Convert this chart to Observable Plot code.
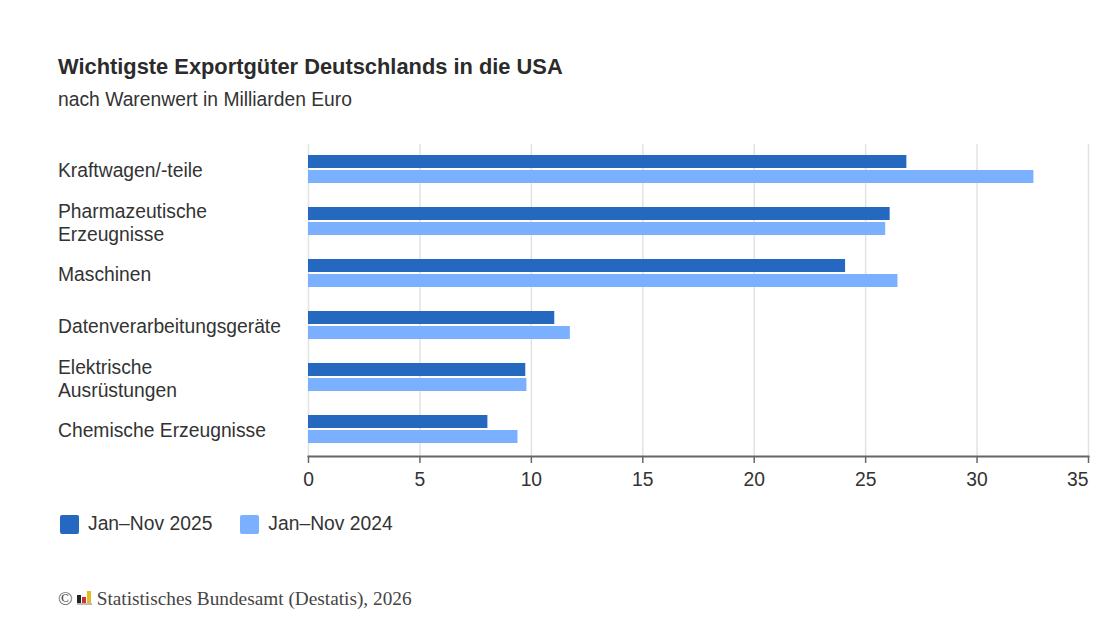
<!DOCTYPE html>
<html lang="de"><head><meta charset="utf-8">
<script src="https://cdn.jsdelivr.net/npm/d3@7"></script>
<script src="https://cdn.jsdelivr.net/npm/@observablehq/plot@0.6"></script>
<style>
html,body{margin:0;padding:0;background:#fff;width:1116px;height:628px;overflow:hidden;font-family:"Liberation Sans",Arial,sans-serif;color:#2b2b2b}
#wrap{position:relative;width:1116px;height:628px}
#title{position:absolute;left:58px;top:53px;font-size:21.85px;font-weight:700;line-height:28px;white-space:nowrap}
#sub{position:absolute;left:58px;top:89px;font-size:19.3px;line-height:22px;color:#333;white-space:nowrap}
#chart{position:absolute;left:0;top:130px}
#legend{position:absolute;left:60px;top:513px;display:flex;font-size:19.3px;line-height:22px;color:#333}
.it{display:flex;align-items:center;margin-right:28px}
.sw{width:19px;height:19px;border-radius:2px;margin-right:9px}
#foot{position:absolute;left:58px;top:588px;display:flex;align-items:center;font-family:"Liberation Serif",serif;font-size:19.3px;line-height:22px;color:#444;white-space:nowrap}
#logo{display:inline-flex;align-items:flex-end;height:13px;width:15px;margin:0 5px 3px 4px;gap:1px;border-bottom:2px solid #bbb}
#logo i{display:block;width:4px}
</style></head><body>
<div id="wrap">
<div id="title">Wichtigste Exportgüter Deutschlands in die USA</div>
<div id="sub">nach Warenwert in Milliarden Euro</div>
<div id="chart"></div>
<div id="legend"></div>
<div id="foot">©<span id="logo"><i style="height:8px;background:#222"></i><i style="height:6px;background:#c33"></i><i style="height:12px;background:#e8b923"></i></span>Statistisches Bundesamt (Destatis), 2026</div>
</div>
<script>
const categories = ["Kraftwagen/-teile","Pharmazeutische\nErzeugnisse","Maschinen","Datenverarbeitungsgeräte","Elektrische\nAusrüstungen","Chemische Erzeugnisse"];
const seriesNames = ["Jan–Nov 2025","Jan–Nov 2024"];
const values2025 = [26.85,26.1,24.1,11.05,9.75,8.05];
const values2024 = [32.55,25.9,26.45,11.75,9.8,9.4];
const tickValues = [0,5,10,15,20,25,30,35];
const colors = ["#2468bf","#7ab0ff"];

const rows = categories.flatMap((c,i)=>[
  {category:c,series:seriesNames[0],value:values2025[i]},
  {category:c,series:seriesNames[1],value:values2024[i]}
]);
const last = categories[categories.length-1];
const chart = Plot.plot({
  width:1116,height:360,marginLeft:308,marginRight:28,marginTop:13,marginBottom:34,
  style:{background:"transparent",fontFamily:"'Liberation Sans',Arial,sans-serif",fontSize:"19.3px",color:"#333"},
  x:{domain:[0,35],axis:null},
  y:{domain:seriesNames,axis:null,paddingInner:0.11,paddingOuter:0.7,align:0.45},
  fy:{domain:categories,axis:null,padding:0},
  color:{domain:seriesNames,range:colors},
  marks:[
    Plot.ruleX(tickValues,{stroke:"#e2e2e2",strokeWidth:1.5}),
    Plot.barX(rows,{x:"value",y:"series",fy:"category",fill:"series"}),
    Plot.text(categories,{fy:d=>d,text:d=>d,frameAnchor:"left",textAnchor:"start",dx:-250.5,dy:-0.8,lineHeight:1.19,fontSize:19.3,fill:"#333"}),
    Plot.frame({anchor:"bottom",stroke:"#666",strokeWidth:2,fy:[last]}),
    Plot.axisX(tickValues.slice(0,-1),{anchor:"bottom",label:null,tickSize:7,tickPadding:8.5,stroke:"#666",strokeWidth:1.5,fill:"#333",fontSize:19.3,tickFormat:d=>d}),
    Plot.axisX(tickValues.slice(-1),{anchor:"bottom",label:null,tickSize:7,tickPadding:8.5,stroke:"#666",strokeWidth:1.5,fill:"#333",fontSize:19.3,textAnchor:"end",tickFormat:d=>d})
  ]
});
document.getElementById("chart").append(chart);
const lg=document.getElementById("legend");
seriesNames.forEach((s,i)=>{
  const it=document.createElement("div");it.className="it";
  const sw=document.createElement("span");sw.className="sw";sw.style.background=colors[i];
  const t=document.createElement("span");t.textContent=s;
  it.append(sw,t);lg.append(it);
});
</script>
</body></html>
